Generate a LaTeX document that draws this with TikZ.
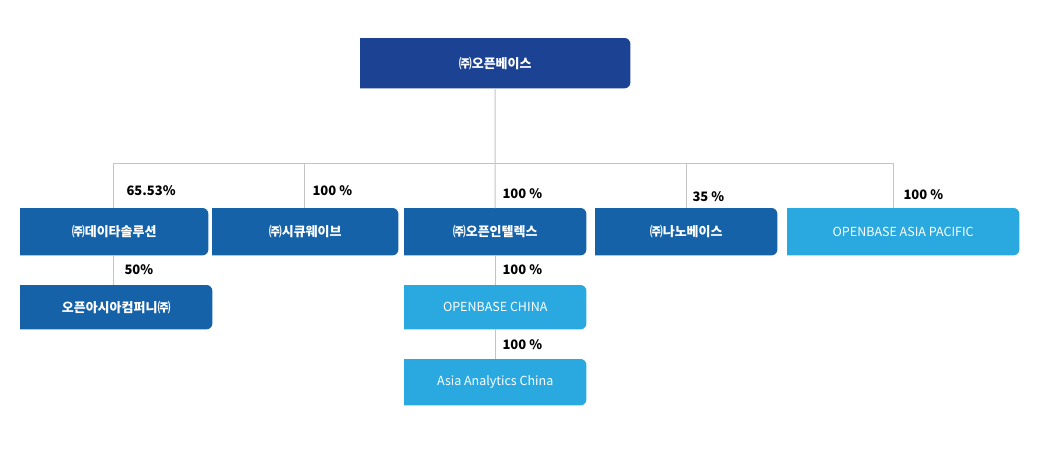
\documentclass[tikz,border=0pt]{standalone}
\usepackage{fontspec}
\setmainfont{Noto Sans CJK KR}
\usetikzlibrary{backgrounds}
\definecolor{topblue}{HTML}{1B4293}
\definecolor{darkblue}{HTML}{1562A9}
\definecolor{lightblue}{HTML}{2AA9E0}
\definecolor{linegray}{HTML}{C4C4C4}
\newcommand{\boxfill}[2]{\fill[#2] (#1.north west) -- ([xshift=-6pt]#1.north east) [rounded corners=6pt] -- (#1.north east) -- (#1.south east) [sharp corners] -- (#1.south west) -- cycle;}
\begin{document}
\begin{tikzpicture}[x=1pt,y=-1pt]
\tikzstyle{org}=[inner sep=0pt,anchor=north west,text=white,font=\fontsize{13}{13}\selectfont\bfseries]
\tikzstyle{pct}=[anchor=west,font=\fontsize{13}{13}\selectfont\bfseries]
\tikzstyle{link}=[linegray,line width=1pt]
\useasboundingbox (0,0) rectangle (1037,458);
\node[org,minimum width=270pt,minimum height=50pt] (top) at (360,38) {㈜오픈베이스};
\node[org,minimum width=188pt,minimum height=47pt] (data) at (20,208) {㈜데이타솔루션};
\node[org,minimum width=186pt,minimum height=47pt] (secu) at (212,208) {㈜시큐웨이브};
\node[org,minimum width=182pt,minimum height=47pt] (intel) at (404,208) {㈜오픈인텔렉스};
\node[org,minimum width=182pt,minimum height=47pt] (nano) at (595,208) {㈜나노베이스};
\node[org,minimum width=232pt,minimum height=47pt,font=\fontsize{12.5}{12.5}\selectfont] (apac) at (787,208) {OPENBASE ASIA PACIFIC};
\node[org,minimum width=192pt,minimum height=44pt] (asia) at (20,285) {오픈아시아컴퍼니㈜};
\node[org,minimum width=182pt,minimum height=44pt,font=\fontsize{12.5}{12.5}\selectfont] (china) at (404,285) {OPENBASE CHINA};
\node[org,minimum width=182pt,minimum height=46pt,font=\fontsize{12.5}{12.5}\selectfont] (analytics) at (404,359) {Asia Analytics China};
\begin{scope}[on background layer]
\boxfill{top}{topblue}
\boxfill{data}{darkblue}
\boxfill{secu}{darkblue}
\boxfill{intel}{darkblue}
\boxfill{nano}{darkblue}
\boxfill{apac}{lightblue}
\boxfill{asia}{darkblue}
\boxfill{china}{lightblue}
\boxfill{analytics}{lightblue}
\coordinate (bus) at (495,163);
\draw[link] (top.south) -- (bus);
\draw[link] (113,163) -- (893,163);
\draw[link] (113,163) -- (113,208);
\draw[link] (304,163) -- (304,208);
\draw[link] (bus) -- (intel.north);
\draw[link] (686,163) -- (686,208);
\draw[link] (893,163) -- (893,208);
\draw[link] (113,255) -- (113,285);
\draw[link] (intel.south) -- (china.north);
\draw[link] (china.south) -- (analytics.north);
\end{scope}
\node[pct] (p1) at (123,191) {65.53\%};
\node[pct] (p2) at (309,191) {100 \%};
\node[pct] (p3) at (499,194) {100 \%};
\node[pct] (p4) at (689,197) {35 \%};
\node[pct] (p5) at (900,195) {100 \%};
\node[pct] (p6) at (121,270) {50\%};
\node[pct] (p7) at (499,270) {100 \%};
\node[pct] (p8) at (499,345) {100 \%};
\end{tikzpicture}
\end{document}
